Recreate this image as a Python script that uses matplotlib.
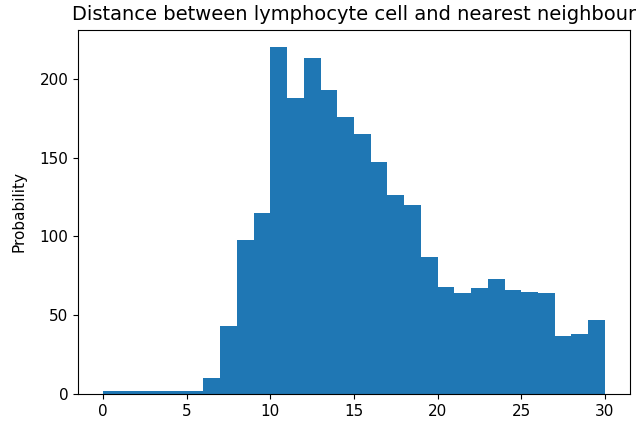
import matplotlib
matplotlib.use("Agg")
import matplotlib.pyplot as plt
import numpy as np

bin_edges = list(range(0, 31))
counts = [2, 2, 2, 2, 2, 2, 10, 43, 98, 115,
          220, 188, 213, 193, 176, 165, 147, 126, 120, 87,
          68, 64, 67, 73, 66, 65, 64, 37, 38, 47]
title = "Distance between lymphocyte cell and nearest neighbour"
ylabel = "Probability"

fig = plt.figure(figsize=(6.43, 4.22), dpi=100)
ax = fig.add_axes([78/643, 1 - 394/422, (630-78)/643, (394-30)/422])
ax.hist(bin_edges[:-1], bins=bin_edges, weights=counts, color="#1f77b4")
ax.set_title(title, fontsize=14, pad=7)
ax.set_ylabel(ylabel, fontsize=11, labelpad=9)
ax.tick_params(labelsize=11)
ax.set_xticks([0, 5, 10, 15, 20, 25, 30])
ax.set_yticks([0, 50, 100, 150, 200])
fig.savefig("out.png", dpi=100)
